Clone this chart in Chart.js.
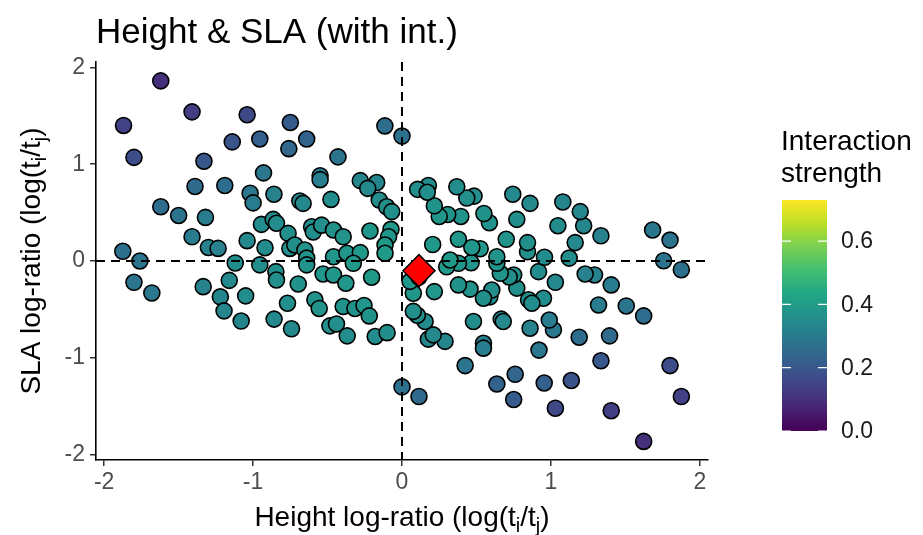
<!DOCTYPE html>
<html>
<head>
<meta charset="utf-8">
<script src="https://cdn.jsdelivr.net/npm/chart.js@4.4.1/dist/chart.umd.min.js"></script>
<style>
  html, body { margin: 0; padding: 0; background: #fff; }
  #wrap { width: 923px; height: 535px; }
</style>
</head>
<body>
<div id="wrap"><canvas id="chart" width="923" height="535"></canvas></div>
<script>
// ---------------------- DATOS ----------------------
// log(ti/tj) de altura, mitad izquierda y luego mitad derecha
const heightRatio = [
  -1.62, -1.41, -1.87, -1.04, -1.14, -1.80, -1.33, -1.39, -1.19, -1.02,
  -1.00, -1.62, -1.50, -1.32, -1.41, -1.04, -1.30, -1.235, -1.875, -1.76,
  -1.12, -1.80, -1.68, -1.16, -1.335, -1.22, -1.05, -1.195, -1.08, -0.75,
  -0.955, -0.64, -0.76, -0.115, 0.0, -0.43, -0.93, -0.55, -0.55, -0.28,
  -0.17, -0.23, -0.86, -0.686, -0.664, -0.477, -0.153, -0.103, -0.069, -0.944,
  -0.865, -0.843, -0.765, -0.607, -0.596, -0.54, -0.46, -0.395, -0.215, -0.074,
  -0.09, -0.114, -0.92, -0.753, -0.72, -0.652, -0.46, -0.37, -0.28, -0.64,
  -0.955, -0.847, -0.843, -0.697, -0.64, -0.769, -0.859, -0.742, -0.585, -0.556,
  -0.53, -0.46, -0.377, -0.327, -0.395, -0.316, -0.255, -0.22, -0.484, -0.44,
  -0.368, -0.18, -0.10, -0.204, -0.114, 0.0,
  1.623, 1.405, 1.876, 1.03, 1.137, 1.80, 1.336, 1.394, 1.19, 1.017,
  0.989, 1.623, 1.506, 1.32, 1.405, 1.03, 1.293, 1.23, 1.876, 1.757,
  1.123, 1.80, 1.683, 1.163, 1.336, 1.22, 1.047, 1.197, 1.08, 0.75,
  0.955, 0.637, 0.76, 0.114, 0.424, 0.92, 0.547, 0.547, 0.289, 0.177,
  0.21, 0.86, 0.666, 0.68, 0.48, 0.155, 0.103, 0.076, 0.95, 0.85,
  0.872, 0.771, 0.59, 0.603, 0.547, 0.457, 0.379, 0.217, 0.076, 0.054,
  0.114, 0.917, 0.75, 0.72, 0.66, 0.464, 0.379, 0.30, 0.637, 0.957,
  0.843, 0.843, 0.70, 0.637, 0.771, 0.86, 0.744, 0.587, 0.55, 0.525,
  0.469, 0.379, 0.323, 0.395, 0.307, 0.25, 0.217, 0.484, 0.435, 0.368,
  0.177, 0.105, 0.206, 0.114, 0.17
];

// log(ti/tj) de SLA
const slaRatio = [
  1.86, 1.54, 1.40, 1.51, 1.23, 1.07, 1.03, 0.77, 0.78, 0.70,
  0.60, 0.56, 0.47, 0.45, 0.25, 0.21, 0.14, 0.13, 0.10, 0.00,
  -0.02, -0.22, -0.33, -0.20, -0.265, -0.37, -0.36, -0.515, -0.62, 1.43,
  1.26, 1.26, 1.16, 1.395, 1.29, 1.075, 0.91, 0.88, 0.84, 0.83,
  0.81, 0.75, 0.69, 0.62, 0.595, 0.636, 0.63, 0.56, 0.51, 0.378,
  0.43, 0.39, 0.285, 0.354, 0.30, 0.37, 0.32, 0.25, 0.31, 0.327,
  0.25, 0.165, 0.137, 0.13, 0.165, 0.113, 0.044, 0.08, 0.086, 0.03,
  -0.04, -0.11, -0.196, -0.237, -0.04, -0.436, -0.60, -0.70, -0.40, -0.49,
  -0.134, -0.144, -0.23, -0.024, -0.47, -0.49, -0.46, -0.567, -0.67, -0.65,
  -0.773, -0.78, -0.74, -0.168, 0.08, -1.30,
  -1.863, -1.546, -1.40, -1.52, -1.234, -1.08, -1.03, -0.773, -0.787, -0.71,
  -0.61, -0.567, -0.464, -0.454, -0.247, -0.22, -0.144, -0.134, -0.09, 0.003,
  0.03, 0.216, 0.32, 0.19, 0.26, 0.364, 0.364, 0.51, 0.61, -1.43,
  -1.26, -1.27, -1.17, -1.40, -1.08, -0.92, -0.85, -0.90, -0.83, -0.807,
  -0.763, -0.694, -0.60, -0.625, -0.625, -0.625, -0.56, -0.52, -0.385, -0.40,
  -0.436, -0.28, -0.37, -0.30, -0.385, -0.29, -0.247, -0.316, -0.333, -0.21,
  -0.165, -0.11, -0.144, -0.165, -0.127, -0.018, -0.024, -0.06, -0.024, 0.038,
  0.096, 0.19, 0.224, 0.044, 0.43, 0.595, 0.69, 0.395, 0.49, 0.127,
  0.14, 0.224, 0.01, 0.46, 0.48, 0.46, 0.57, 0.67, 0.65, 0.766,
  0.78, 0.74, 0.17, -0.08, 0.71
];

// fuerza de interacción (color)
const strength = [
  0.10, 0.13, 0.14, 0.16, 0.19, 0.17, 0.20, 0.25, 0.26, 0.29,
  0.30, 0.26, 0.28, 0.30, 0.30, 0.34, 0.32, 0.32, 0.27, 0.28,
  0.35, 0.28, 0.29, 0.34, 0.32, 0.33, 0.35, 0.33, 0.33, 0.21,
  0.22, 0.23, 0.24, 0.26, 0.27, 0.28, 0.29, 0.31, 0.31, 0.33,
  0.33, 0.34, 0.32, 0.34, 0.34, 0.35, 0.35, 0.36, 0.36, 0.35,
  0.35, 0.35, 0.36, 0.36, 0.36, 0.36, 0.37, 0.37, 0.38, 0.38,
  0.38, 0.39, 0.35, 0.36, 0.36, 0.37, 0.38, 0.38, 0.39, 0.37,
  0.35, 0.36, 0.36, 0.37, 0.37, 0.36, 0.34, 0.34, 0.37, 0.37,
  0.38, 0.38, 0.38, 0.39, 0.37, 0.37, 0.38, 0.37, 0.36, 0.36,
  0.35, 0.35, 0.36, 0.39, 0.39, 0.27,
  0.10, 0.13, 0.14, 0.16, 0.19, 0.17, 0.20, 0.25, 0.26, 0.29,
  0.30, 0.26, 0.28, 0.30, 0.30, 0.34, 0.32, 0.32, 0.27, 0.28,
  0.35, 0.28, 0.29, 0.34, 0.32, 0.33, 0.35, 0.33, 0.33, 0.21,
  0.22, 0.23, 0.24, 0.25, 0.28, 0.29, 0.31, 0.31, 0.33, 0.33,
  0.34, 0.32, 0.34, 0.34, 0.35, 0.35, 0.36, 0.36, 0.35, 0.35,
  0.35, 0.36, 0.36, 0.36, 0.36, 0.37, 0.37, 0.38, 0.38, 0.38,
  0.39, 0.35, 0.36, 0.36, 0.37, 0.38, 0.38, 0.39, 0.37, 0.35,
  0.36, 0.36, 0.37, 0.37, 0.36, 0.34, 0.34, 0.37, 0.37, 0.38,
  0.38, 0.38, 0.39, 0.37, 0.37, 0.38, 0.37, 0.36, 0.36, 0.35,
  0.35, 0.36, 0.39, 0.39, 0.36
];

// punto promedio (rombo rojo)
const focalX = [0.114];
const focalY = [-0.10];

const axisTicks = [-2, -1, 0, 1, 2];
const legendTicks = [0.0, 0.2, 0.4, 0.6];
const strengthMax = 0.73;
const refLines = [0];

// ---------------------- ESTILO ----------------------
const FONT = '"Liberation Sans", Arial, Helvetica, sans-serif';
const VIRIDIS = ["#440154", "#482475", "#414487", "#355f8d", "#2a788e", "#21918c",
                 "#22a884", "#44bf70", "#7ad151", "#bddf26", "#fde725"];

function hexRgb(h) {
  return [parseInt(h.slice(1, 3), 16), parseInt(h.slice(3, 5), 16), parseInt(h.slice(5, 7), 16)];
}

function viridis(t) {
  t = Math.max(0, Math.min(1, t));
  const p = t * 10;
  const i = Math.min(9, Math.floor(p));
  const f = p - i;
  const a = hexRgb(VIRIDIS[i]);
  const b = hexRgb(VIRIDIS[i + 1]);
  return `rgb(${a.map((v, k) => Math.round(v + (b[k] - v) * f)).join(",")})`;
}

// texto con subíndices: partes [{t, sub}]
function drawParts(ctx, parts, x, y, size) {
  const subSize = Math.round(size * 0.7);
  const widths = parts.map((p) => {
    ctx.font = `${p.sub ? subSize : size}px ${FONT}`;
    return ctx.measureText(p.t).width;
  });
  const total = widths.reduce((a, b) => a + b, 0);
  let cx = x - total / 2;
  ctx.textAlign = "left";
  ctx.textBaseline = "alphabetic";
  parts.forEach((p, i) => {
    ctx.font = `${p.sub ? subSize : size}px ${FONT}`;
    ctx.fillText(p.t, cx, p.sub ? y + size * 0.22 : y);
    cx += widths[i];
  });
}

const decorPlugin = {
  id: "decor",
  afterDatasetDraw(chart, args) {
    if (args.index !== 1) return;
    const { ctx, chartArea: a, scales } = chart;
    ctx.save();
    ctx.strokeStyle = "#000";
    ctx.lineWidth = 2;
    ctx.setLineDash([9, 6]);
    refLines.forEach((v) => {
      const py = scales.y.getPixelForValue(v);
      ctx.beginPath();
      ctx.moveTo(a.left, py);
      ctx.lineTo(a.right, py);
      ctx.stroke();
      const px = scales.x.getPixelForValue(v);
      ctx.beginPath();
      ctx.moveTo(px, a.top);
      ctx.lineTo(px, a.bottom);
      ctx.stroke();
    });
    ctx.restore();
  },
  afterDraw(chart) {
    const { ctx, chartArea: a } = chart;
    ctx.save();
    ctx.fillStyle = "#000";

    // título
    ctx.font = `35px ${FONT}`;
    ctx.textAlign = "left";
    ctx.textBaseline = "alphabetic";
    ctx.fillText("Height & SLA (with int.)", a.left, 43);

    // títulos de ejes
    drawParts(ctx, [
      { t: "Height log-ratio (log(t" }, { t: "i", sub: true },
      { t: "/t" }, { t: "j", sub: true }, { t: ")" }
    ], (a.left + a.right) / 2, 526, 28);

    ctx.save();
    ctx.translate(40, (a.top + a.bottom) / 2);
    ctx.rotate(-Math.PI / 2);
    drawParts(ctx, [
      { t: "SLA log-ratio (log(t" }, { t: "i", sub: true },
      { t: "/t" }, { t: "j", sub: true }, { t: ")" }
    ], 0, 0, 28);
    ctx.restore();

    // leyenda de color
    const bx = 782, bw = 45, bBottom = 431, bTop = 200;
    const g = ctx.createLinearGradient(0, bBottom, 0, bTop);
    VIRIDIS.forEach((c, i) => g.addColorStop(i / (VIRIDIS.length - 1), c));
    ctx.fillStyle = g;
    ctx.fillRect(bx, bTop, bw, bBottom - bTop);

    ctx.fillStyle = "#000";
    ctx.font = `28px ${FONT}`;
    ctx.textAlign = "left";
    ctx.fillText("Interaction", 781, 150);
    ctx.fillText("strength", 781, 182);

    ctx.font = `23px ${FONT}`;
    ctx.textBaseline = "middle";
    legendTicks.forEach((v) => {
      const py = bBottom - (v / strengthMax) * (bBottom - bTop);
      ctx.strokeStyle = "#fff";
      ctx.lineWidth = 1.2;
      ctx.beginPath();
      ctx.moveTo(bx, py); ctx.lineTo(bx + 9, py);
      ctx.moveTo(bx + bw - 9, py); ctx.lineTo(bx + bw, py);
      ctx.stroke();
      ctx.fillStyle = "#1a1a1a";
      ctx.fillText(v.toFixed(1), 841, py + 1);
    });
    ctx.restore();
  }
};

// ---------------------- GRÁFICO ----------------------
const points = heightRatio.map((x, i) => ({ x: x, y: slaRatio[i] }));
const pointColors = strength.map((s) => viridis(s / strengthMax));
const focal = focalX.map((x, i) => ({ x: x, y: focalY[i] }));

const axisCommon = {
  type: "linear",
  min: -2.055,
  max: 2.055,
  afterBuildTicks: (scale) => { scale.ticks = axisTicks.map((v) => ({ value: v })); },
  border: { display: true, color: "#000", width: 1.6 },
  grid: { drawOnChartArea: false, drawTicks: true, tickLength: 6, color: "#333", lineWidth: 1.5 },
  ticks: { color: "#4d4d4d", font: { family: FONT, size: 23 }, padding: 3 }
};

new Chart(document.getElementById("chart"), {
  type: "scatter",
  data: {
    datasets: [
      {
        label: "focal",
        data: focal,
        pointStyle: "rectRot",
        pointRadius: 16,
        backgroundColor: "#ff0000",
        borderColor: "#000",
        borderWidth: 1.5
      },
      {
        label: "pairs",
        data: points,
        pointRadius: 8,
        backgroundColor: pointColors,
        borderColor: "#000",
        borderWidth: 1.6
      }
    ]
  },
  options: {
    responsive: false,
    animation: false,
    events: [],
    layout: { padding: { left: 0, top: 62, right: 215, bottom: 0 } },
    plugins: { legend: { display: false }, tooltip: { enabled: false } },
    scales: {
      x: Object.assign({}, axisCommon, {
        position: "bottom",
        afterFit: (s) => { s.height = 75; }
      }),
      y: Object.assign({}, axisCommon, {
        position: "left",
        ticks: Object.assign({}, axisCommon.ticks, { padding: 5 }),
        afterFit: (s) => { s.width = 96; }
      })
    }
  },
  plugins: [decorPlugin]
});
</script>
</body>
</html>
